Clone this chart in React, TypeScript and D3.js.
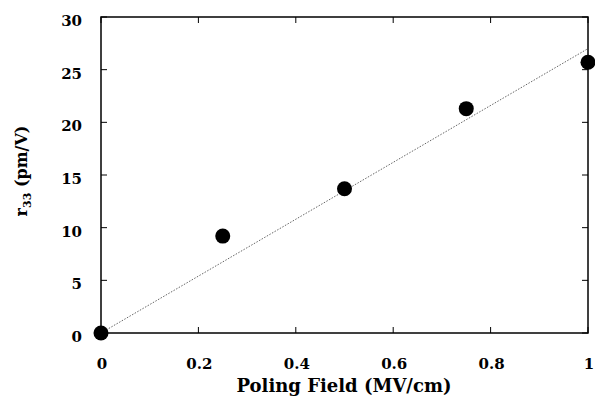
import React from "react";
import * as d3 from "d3";

const fieldValues = [0, 0.25, 0.5, 0.75, 1.0];
const r33Values = [0, 9.2, 13.7, 21.3, 25.7];
const fitX = [0, 1];
const fitY = [0, 27.0];
const xTicks = [0, 0.2, 0.4, 0.6, 0.8, 1];
const yTicks = [0, 5, 10, 15, 20, 25, 30];
const xTickLabels = ["0", "0.2", "0.4", "0.6", "0.8", "1"];

const W = 595;
const H = 403;
const left = 101;
const right = 588;
const top = 17;
const bottom = 333;
const FONT = "'DejaVu Serif', serif";

export default function App() {
  const x = d3.scaleLinear().domain([0, 1]).range([left, right]);
  const y = d3.scaleLinear().domain([0, 30]).range([bottom, top]);
  const fitLine = d3
    .line<number>()
    .x((_, i) => x(fitX[i]))
    .y((d) => y(d))(fitY) as string;
  const tickLen = 6;

  return (
    <svg
      width={W}
      height={H}
      style={{ position: "absolute", left: 0, top: 0, background: "#fff" }}
    >
      <rect x={0} y={0} width={W} height={H} fill="#fff" />
      {/* fit line */}
      <path d={fitLine} fill="none" stroke="#666" strokeWidth={1} strokeDasharray="1.5,1.5" />
      {/* frame */}
      <rect
        x={left}
        y={top}
        width={right - left}
        height={bottom - top}
        fill="none"
        stroke="#000"
        strokeWidth={1.5}
      />
      {/* ticks */}
      {yTicks.map((t) => (
        <g key={"yt" + t}>
          <line x1={left} x2={left + tickLen} y1={y(t)} y2={y(t)} stroke="#000" strokeWidth={1} />
          <line x1={right} x2={right - tickLen} y1={y(t)} y2={y(t)} stroke="#000" strokeWidth={1} />
          <text
            x={82}
            y={y(t) + 9}
            textAnchor="end"
            fontFamily={FONT}
            fontWeight="bold"
            fontSize={15}
            fill="#000"
          >
            {t}
          </text>
        </g>
      ))}
      {xTicks.map((t, i) => (
        <g key={"xt" + t}>
          <line x1={x(t)} x2={x(t)} y1={bottom} y2={bottom - tickLen} stroke="#000" strokeWidth={1} />
          <line x1={x(t)} x2={x(t)} y1={top} y2={top + tickLen} stroke="#000" strokeWidth={1} />
          <text
            x={x(t) + 1}
            y={369}
            textAnchor="middle"
            fontFamily={FONT}
            fontWeight="bold"
            fontSize={15}
            fill="#000"
          >
            {xTickLabels[i]}
          </text>
        </g>
      ))}
      {/* points */}
      {fieldValues.map((f, i) => (
        <circle key={"p" + i} cx={x(f)} cy={y(r33Values[i])} r={7.5} fill="#000" />
      ))}
      {/* x title */}
      <text
        x={344}
        y={392}
        textAnchor="middle"
        fontFamily={FONT}
        fontWeight="bold"
        fontSize={18}
        fill="#000"
      >
        Poling Field (MV/cm)
      </text>
      {/* y title */}
      <text
        transform={`translate(27, 171) rotate(-90)`}
        textAnchor="middle"
        fontFamily={FONT}
        fontWeight="bold"
        fontSize={16}
        fill="#000"
      >
        r
        <tspan fontSize={11} dy={4}>
          33
        </tspan>
        <tspan dy={-4}> (pm/V)</tspan>
      </text>
    </svg>
  );
}
